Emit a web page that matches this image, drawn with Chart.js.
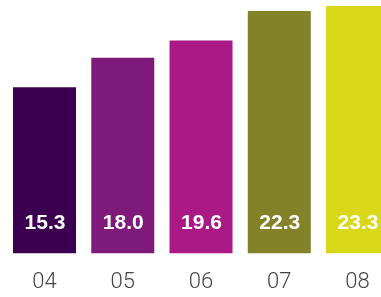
<!DOCTYPE html>
<html>
<head>
<meta charset="utf-8">
<script src="https://cdn.jsdelivr.net/npm/chart.js@4"></script>
<style>
html,body{margin:0;padding:0;background:#fff;overflow:hidden;width:381px;height:297px;}
#wrap{position:absolute;left:0;top:0;width:400px;height:297px;}
</style>
</head>
<body>
<div id="wrap"><canvas id="c" width="400" height="297"></canvas></div>
<script>
const categories = ["04", "05", "06", "07", "08"];
const values = [15.3, 18.0, 19.6, 22.3, 23.3];
const valueLabels = ["15.3", "18.0", "19.6", "22.3", "23.3"];
const barColors = ["#3c0050", "#7e1a7a", "#aa1985", "#838229", "#d8d818"];

const valueLabelPlugin = {
  id: 'valueLabels',
  afterDatasetsDraw(chart) {
    const ctx = chart.ctx;
    const meta = chart.getDatasetMeta(0);
    const base = chart.scales.y.getPixelForValue(0);
    ctx.save();
    ctx.fillStyle = '#ffffff';
    ctx.font = 'bold 21px "Liberation Sans", Arial, sans-serif';
    ctx.textAlign = 'center';
    ctx.textBaseline = 'middle';
    meta.data.forEach((bar, i) => {
      ctx.fillText(valueLabels[i], bar.x + 0.5, base - 30);
    });
    ctx.restore();
  }
};

new Chart(document.getElementById('c'), {
  type: 'bar',
  data: {
    labels: categories,
    datasets: [{
      data: values,
      backgroundColor: barColors,
      borderWidth: 0,
      categoryPercentage: 1,
      barPercentage: 0.805,
      clip: 0
    }]
  },
  options: {
    responsive: false,
    animation: false,
    devicePixelRatio: 1,
    layout: { padding: { left: 5.4, right: 3.35, top: 6, bottom: -15 } },
    plugins: { legend: { display: false }, tooltip: { enabled: false } },
    scales: {
      x: {
        grid: { display: false, drawTicks: false },
        border: { display: false },
        ticks: {
          color: '#444444',
          font: { family: 'Roboto, "Liberation Sans", sans-serif', size: 22, weight: 300 },
          padding: 16
        }
      },
      y: {
        display: false,
        min: 0,
        max: 22.76
      }
    }
  },
  plugins: [valueLabelPlugin]
});
</script>
</body>
</html>
